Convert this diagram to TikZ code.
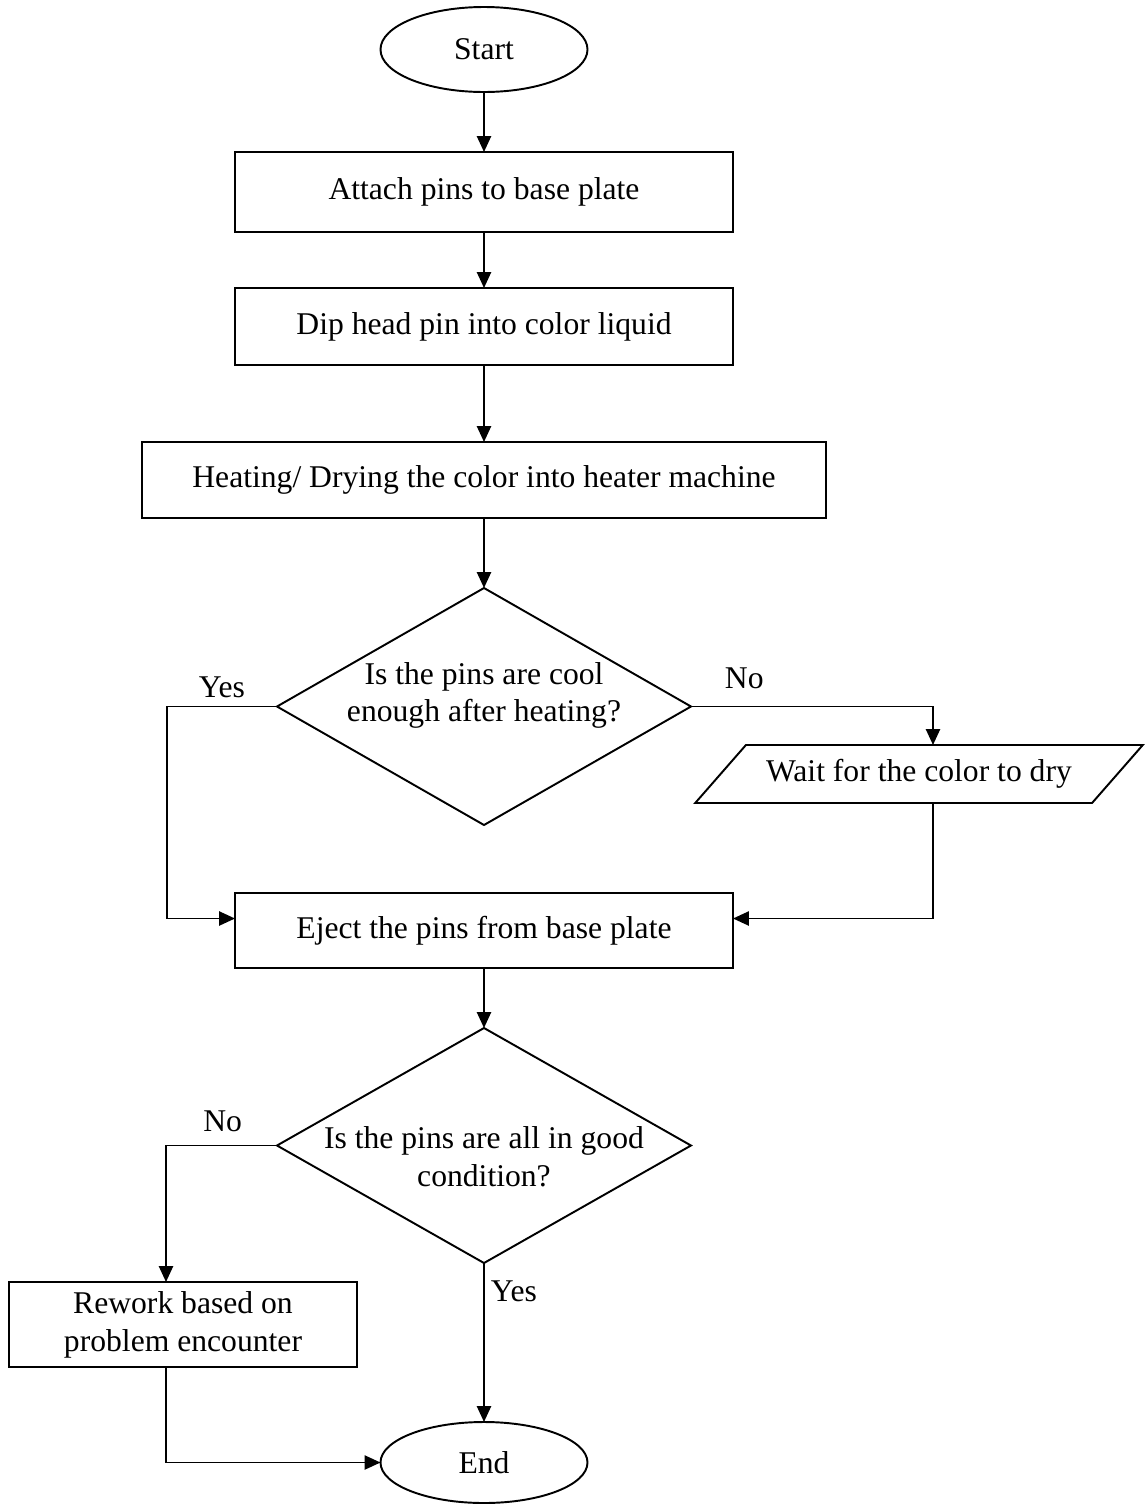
\documentclass[tikz,border=0pt]{standalone}
\usepackage{fontspec}
\setmainfont{Liberation Serif}
\usetikzlibrary{shapes.geometric, arrows.meta, positioning}

\begin{document}
\begin{tikzpicture}[
terminal/.style={ellipse, draw, line width=1.1pt, outer sep=0pt, minimum width=4.14cm, minimum height=1.7cm, inner sep=0pt},
action/.style  ={rectangle, draw, line width=1.1pt, outer sep=0pt, minimum width=9.96cm, minimum height=1.54cm, align=center},
decision/.style={diamond, draw, line width=1.1pt, outer sep=0pt, aspect=1.75, minimum width=8.28cm, minimum height=4.72cm, inner sep=0pt, inner xsep=-1cm, align=center},
io/.style      ={trapezium, draw, line width=1.1pt, outer sep=0pt, trapezium left angle=33, trapezium right angle=147, trapezium stretches=true, minimum width=8.96cm, minimum height=1.16cm, inner sep=0pt},
line/.style    ={draw, line width=1.1pt, -{Triangle[length=9pt,width=8pt]}},
font=\fontsize{18}{21.5}\selectfont,
node distance=1.2cm,
auto,]

\useasboundingbox (0,0) rectangle (22.9,-30.1);

% Define the nodes
\node[terminal]                                        (start) at (9.68,-0.99) {Start};
\node[action, below=1.2cm of start, minimum height=1.6cm]  (att)   {Attach pins to base plate};
\node[action, below=1.12cm of att]                     (dip)   {Dip head pin into color liquid};
\node[action, below=1.54cm of dip, minimum width=13.68cm, minimum height=1.52cm] (heat) {Heating/ Drying the color into heater machine};
\node[decision, below=1.4cm of heat, minimum height=4.74cm, text depth=16.5pt] (cool) {Is the pins are cool\\enough after heating?};
\node[io]                                              (wait)  at (18.38,-15.48) {Wait for the color to dry};
\node[action, below=1.36cm of cool, minimum height=1.5cm] (eject) {Eject the pins from base plate};
\node[decision, below=1.2cm of eject, minimum height=4.7cm, text height=47pt] (good) {Is the pins are all in good\\condition?};
\node[action, minimum width=6.96cm, minimum height=1.7cm] (rework) at (3.66,-26.49) {Rework based on\\problem encounter};
\node[terminal, below=3.18cm of good, minimum height=1.62cm] (end) {End};

% Connect the nodes
\path[line] (start) -- (att);
\path[line] (att) -- (dip);
\path[line] (dip) -- (heat);
\path[line] (heat) -- (cool);
\path[line] (cool.west) -- node[pos=0.5, above=1pt] (lyes1) {Yes} ++(-2.2,0) |- ([yshift=0.24cm]eject.west);
\path[line] (cool.east) -| node[pos=0.11, above=6pt] (lno1) {No} ([xshift=0.28cm]wait.center |- wait.north);
\path[line] ([xshift=0.28cm]wait.center |- wait.south) |- ([yshift=0.24cm]eject.east);
\path[line] (eject) -- (good);
\path[line] (good.west) -| node[pos=0.245, above=4pt] (lno2) {No} ([xshift=-0.34cm]rework.north);
\path[line] (good.south) -- node[pos=0.18, right] (lyes2) {Yes} (end.north);
\path[line] ([xshift=-0.34cm]rework.south) |- (end.west);

\end{tikzpicture}
\end{document}
